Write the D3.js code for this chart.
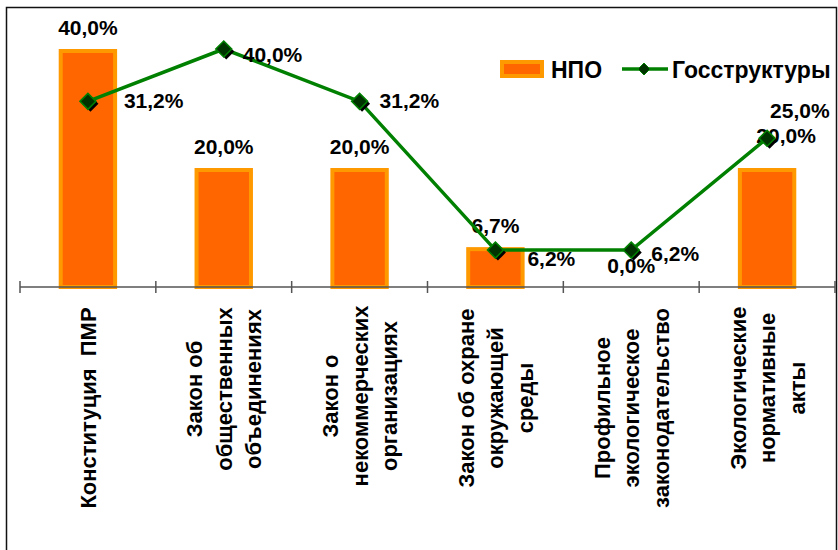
<!DOCTYPE html>
<html>
<head>
<meta charset="utf-8">
<script src="https://cdn.jsdelivr.net/npm/d3@7"></script>
<style>
  body { margin: 0; background: #fff; }
  text { font-family: "Liberation Sans", Arial, sans-serif; font-weight: bold; fill: #000; white-space: pre; }
</style>
</head>
<body>
<svg width="838" height="550"></svg>
<script>
// data
var categories = [
  ["Конституция  ПМР"],
  ["Закон об", "общественных", "объединениях"],
  ["Закон о", "некоммерческих", "организациях"],
  ["Закон об охране", "окружающей", "среды"],
  ["Профильное", "экологическое", "законодательство"],
  ["Экологические", "нормативные", "акты"]
];
var npoValues = [40.0, 20.0, 20.0, 6.7, 0.0, 20.0];
var govValues = [31.2, 40.0, 31.2, 6.2, 6.2, 25.0];
var seriesNames = ["НПО", "Госструктуры"];

// label placement (hand tuned to match the original)
var lineLabelOffset = [[36, 7], [19, 13], [20, 7], [32, 16], [20, 11], [3, -20]];
var barLabelOffset = [[0, 0], [0, 0], [0, 0], [0, 0], [0, 0], [19, -11]];
var catCenterShift = [10, -9, -2, 0, 10, -10];

var svg = d3.select("svg"),
  width = +svg.attr("width"),
  height = +svg.attr("height");

var fmt = function (v) { return v.toFixed(1).replace(".", ",") + "%"; };

// outer frame
svg.append("rect")
  .attr("x", 6.5)
  .attr("y", 7.5)
  .attr("width", 830)
  .attr("height", 560)
  .style("fill", "none")
  .style("stroke", "#111")
  .style("stroke-width", 1.5);

var idx = d3.range(categories.length);

var x = d3.scaleBand()
  .domain(idx)
  .range([20, 835]);

var y = d3.scaleLinear()
  .domain([0, 40])
  .range([287, 49]);

var barW = x.bandwidth() * 0.43;
var cx = function (i) { return x(i) + x.bandwidth() / 2; };

// bars
svg.append("g")
  .selectAll("rect")
  .data(npoValues)
  .enter().append("rect")
  .attr("x", function (d, i) { return cx(i) - barW / 2 + 2; })
  .attr("y", function (d) { return y(d) + 2; })
  .attr("width", barW - 4)
  .attr("height", function (d) { return Math.max(0, y(0) - y(d) - 2); })
  .style("fill", "#ff6600")
  .style("stroke", "#ff9900")
  .style("stroke-width", function (d) { return d > 0 ? 4 : 0; });

// category axis
var axis = svg.append("g")
  .attr("transform", "translate(0," + y(0) + ")");
axis.append("line")
  .attr("x1", 20).attr("x2", 835)
  .style("stroke", "#555").style("stroke-width", 1.5);
axis.selectAll("line.tick")
  .data(d3.range(categories.length + 1))
  .enter().append("line")
  .attr("class", "tick")
  .attr("x1", function (d) { return 20 + d * x.step(); })
  .attr("x2", function (d) { return 20 + d * x.step(); })
  .attr("y1", -6).attr("y2", 6)
  .style("stroke", "#555").style("stroke-width", 1.5);

// rotated category labels
var catLine = 29.5;
var catG = svg.append("g")
  .selectAll("text")
  .data(categories)
  .enter().append("text")
  .attr("transform", function (d, i) { return "translate(" + cx(i) + "," + (398 + catCenterShift[i]) + ") rotate(-90)"; })
  .attr("text-anchor", "middle")
  .style("font-size", "22px");
catG.selectAll("tspan")
  .data(function (d) { return d.map(function (s, k) { return { s: s, k: k, n: d.length }; }); })
  .enter().append("tspan")
  .attr("x", 0)
  .attr("y", function (t) { return (t.k - (t.n - 1) / 2) * catLine + 8; })
  .text(function (t) { return t.s; });

// bar labels
svg.append("g")
  .selectAll("text")
  .data(npoValues)
  .enter().append("text")
  .attr("x", function (d, i) { return cx(i) + barLabelOffset[i][0]; })
  .attr("y", function (d, i) { return y(d) - 14 + barLabelOffset[i][1]; })
  .attr("text-anchor", "middle")
  .style("font-size", "21px")
  .text(fmt);

// line series
var line = d3.line()
  .x(function (d, i) { return cx(i); })
  .y(function (d) { return y(d); });

svg.append("path")
  .datum(govValues)
  .attr("d", line)
  .style("fill", "none")
  .style("stroke", "#008000")
  .style("stroke-width", 3.5);

function diamond(g, px, py, r) {
  g.append("path")
    .attr("d", "M" + (px + 2.5) + "," + (py + 2.5 - r) + "l" + r + "," + r + "l" + (-r) + "," + r + "l" + (-r) + "," + (-r) + "z")
    .style("fill", "#000");
  g.append("path")
    .attr("d", "M" + px + "," + (py - r) + "l" + r + "," + r + "l" + (-r) + "," + r + "l" + (-r) + "," + (-r) + "z")
    .style("fill", "#003300")
    .style("stroke", "#008000")
    .style("stroke-width", 1.5);
}

var markers = svg.append("g");
govValues.forEach(function (d, i) { diamond(markers, cx(i), y(d), 8); });

// line labels
svg.append("g")
  .selectAll("text")
  .data(govValues)
  .enter().append("text")
  .attr("x", function (d, i) { return cx(i) + lineLabelOffset[i][0]; })
  .attr("y", function (d, i) { return y(d) + lineLabelOffset[i][1]; })
  .style("font-size", "21px")
  .text(fmt);

// legend
var legend = svg.append("g");
legend.append("rect")
  .attr("x", 502).attr("y", 62)
  .attr("width", 40).attr("height", 14)
  .style("fill", "#ff6600")
  .style("stroke", "#ff9900")
  .style("stroke-width", 4);
legend.append("text")
  .attr("x", 551).attr("y", 78)
  .style("font-size", "23px")
  .text(seriesNames[0]);
legend.append("line")
  .attr("x1", 622).attr("x2", 668)
  .attr("y1", 69).attr("y2", 69)
  .style("stroke", "#008000")
  .style("stroke-width", 3.5);
legend.append("path")
  .attr("d", "M644,63l6,6l-6,6l-6,-6z")
  .style("fill", "#003300")
  .style("stroke", "#008000")
  .style("stroke-width", 1);
legend.append("text")
  .attr("x", 672).attr("y", 78)
  .style("font-size", "23px")
  .text(seriesNames[1]);
</script>
</body>
</html>
